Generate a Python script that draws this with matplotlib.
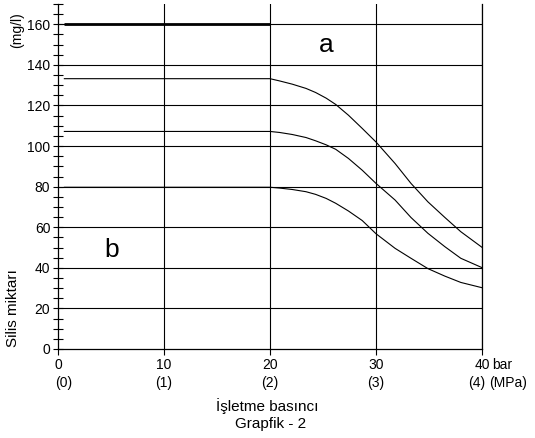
import matplotlib
matplotlib.use("Agg")
import matplotlib.pyplot as plt
from matplotlib.transforms import blended_transform_factory
from matplotlib.ticker import MultipleLocator

plt.rcParams["font.family"] = ["Liberation Sans", "DejaVu Sans"]

# Silis miktarı (mg/l) vs işletme basıncı (bar)
pressure = [0.6, 20, 20.9, 22.1, 23.4, 24.3, 25.3, 26.2, 27.4, 28.7, 30.0,
            31.8, 33.3, 34.9, 36.5, 38.0, 40]
silica_top = [133.2, 133.2, 132.1, 130.5, 128.4, 126.4, 123.6, 120.5, 115.2,
              108.7, 102.0, 91.4, 81.6, 72.5, 64.8, 57.8, 50.1]
silica_mid = [107.2, 107.2, 106.7, 105.7, 104.2, 102.6, 100.6, 98.4, 93.9,
              88.1, 81.6, 73.4, 64.8, 57.0, 50.4, 44.7, 40.1]
silica_low = [79.7, 79.7, 79.3, 78.6, 77.5, 76.2, 74.2, 71.8, 68.0, 63.3,
              56.8, 49.6, 44.7, 39.6, 35.9, 32.8, 30.2]

x_limit = [0.6, 20]
y_limit = [160, 160]

bar_ticks = [0, 10, 20, 30, 40]
bar_labels = ["0", "10", "20", "30", "40"]
mpa_labels = ["(0)", "(1)", "(2)", "(3)", "(4)"]

fig = plt.figure(figsize=(5.35, 4.38), dpi=100)
ax = fig.add_axes([58 / 535, 1 - 349 / 438, 424 / 535, 345 / 438])

ax.set_xlim(0, 40)
ax.set_ylim(0, 170)

for gx in bar_ticks[1:]:
    ax.axvline(gx, color="black", lw=0.8, zorder=1)
for gy in range(20, 161, 20):
    ax.axhline(gy, color="black", lw=0.8, zorder=1)

for ys in [silica_top, silica_mid, silica_low]:
    ax.plot(pressure, ys, color="black", lw=0.8, zorder=3)
ax.plot(x_limit, y_limit, color="black", lw=2.0, zorder=3, solid_capstyle="butt")

ax.spines["top"].set_visible(False)
for s in ["left", "bottom", "right"]:
    ax.spines[s].set_linewidth(0.9)

ax.yaxis.set_major_locator(MultipleLocator(20))
ax.yaxis.set_minor_locator(MultipleLocator(5))
ax.set_yticks(range(0, 161, 20))
ax.tick_params(axis="y", which="both", direction="inout", length=7, width=0.8,
               labelsize=10, pad=2)
ax.set_xticks(bar_ticks)
ax.set_xticklabels([])
ax.tick_params(axis="x", which="major", direction="out", length=4, width=0.8)

trans = blended_transform_factory(ax.transData, fig.transFigure)
for xv, lab in zip(bar_ticks, bar_labels):
    fig.text(xv, 1 - 365 / 438, lab, transform=trans, ha="center", va="center",
             fontsize=10)
mpa_x = [0.5, 10, 20, 30, 39.5]
for xv, lab in zip(mpa_x, mpa_labels):
    fig.text(xv, 1 - 383 / 438, lab, transform=trans, ha="center", va="center",
             fontsize=10)
fig.text(41.0, 1 - 365 / 438, "bar", transform=trans, ha="left", va="center",
         fontsize=10)
fig.text(40.65, 1 - 383 / 438, "(MPa)", transform=trans, ha="left", va="center",
         fontsize=10)

fig.text(267 / 535, 1 - 406 / 438, "İşletme basıncı", ha="center", va="center",
         fontsize=11)
fig.text(271 / 535, 1 - 424 / 438, "Grapfik - 2", ha="center", va="center",
         fontsize=11)

fig.text(13 / 535, 1 - 308 / 438, "Silis miktarı", rotation=90, ha="center",
         va="center", fontsize=11)
fig.text(17 / 535, 1 - 30 / 438, "(mg/l)", rotation=90, ha="center",
         va="center", fontsize=10)

ax.text(25.3, 150, "a", ha="center", va="center", fontsize=19)
ax.text(5.1, 49, "b", ha="center", va="center", fontsize=19)

fig.savefig("out.png", dpi=100)
